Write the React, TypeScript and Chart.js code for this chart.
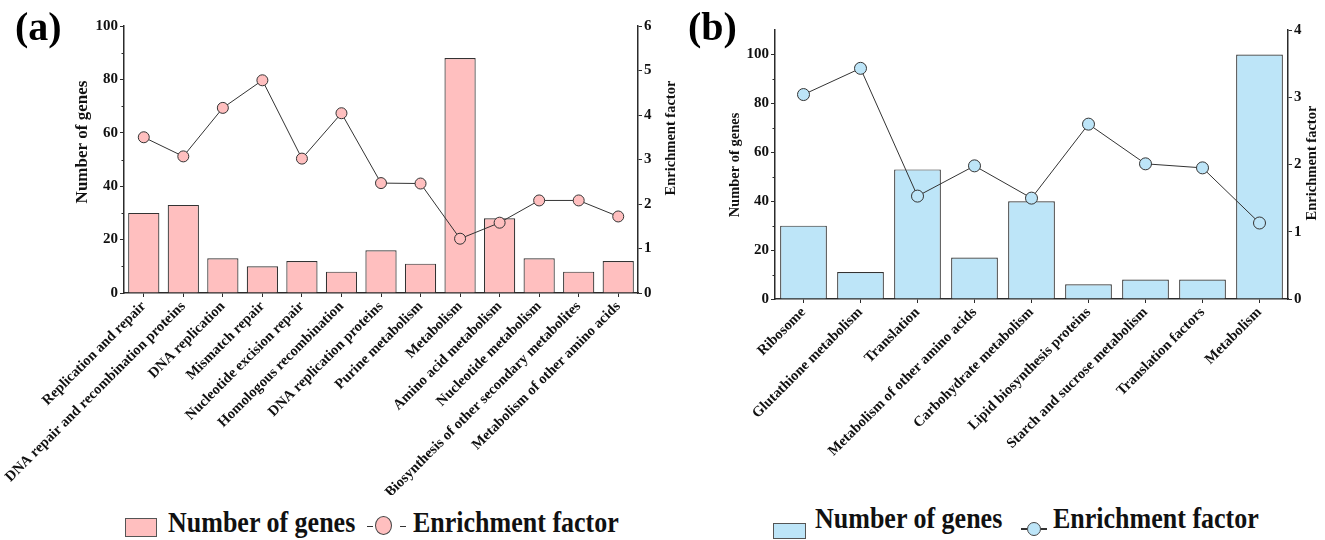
import React, { useEffect, useRef } from 'react';
import { Chart, registerables } from 'chart.js';

Chart.register(...registerables);

// ---------- Data: panel (a) ----------
const categoriesA = [
  'Replication and repair',
  'DNA repair and recombination proteins',
  'DNA replication',
  'Mismatch repair',
  'Nucleotide excision repair',
  'Homologous recombination',
  'DNA replication proteins',
  'Purine metabolism',
  'Metabolism',
  'Amino acid metabolism',
  'Nucleotide metabolism',
  'Biosynthesis of other secondary metabolites',
  'Metabolism of other amino acids',
];
const genesA = [30, 33, 13, 10, 12, 8, 16, 11, 88, 28, 13, 8, 12];
const enrichA = [3.5, 3.07, 4.16, 4.78, 3.02, 4.04, 2.47, 2.46, 1.22, 1.58, 2.08, 2.08, 1.72];
const genesTicksA = [0, 20, 40, 60, 80, 100];
const genesMinorA = [10, 30, 50, 70, 90];
const enrichTicksA = [0, 1, 2, 3, 4, 5, 6];

// ---------- Data: panel (b) ----------
const categoriesB = [
  'Ribosome',
  'Glutathione metabolism',
  'Translation',
  'Metabolism of other amino acids',
  'Carbohydrate metabolism',
  'Lipid biosynthesis proteins',
  'Starch and sucrose metabolism',
  'Translation factors',
  'Metabolism',
];
const genesB = [30, 11, 53, 17, 40, 6, 8, 8, 100];
const enrichB = [3.04, 3.43, 1.53, 1.98, 1.5, 2.6, 2.01, 1.95, 1.13];
const genesTicksB = [0, 20, 40, 60, 80, 100];
const genesMinorB = [10, 30, 50, 70, 90];
const enrichTicksB = [0, 1, 2, 3, 4];

const SERIF = '"Liberation Serif", "Times New Roman", serif';
const AXIS = '#2b2b2b';
const TXT = '#111';
const PINK = '#FFBFBF';
const BLUE = '#BDE5F8';

const decorPlugin = {
  id: 'decor',
  afterDraw(chart: any, _args: any, opts: any) {
    const ctx = chart.ctx;
    const yL = chart.scales.y;
    ctx.save();
    ctx.strokeStyle = AXIS;
    ctx.lineWidth = 1;
    for (const v of opts.minor || []) {
      const py = Math.round(yL.getPixelForValue(v)) + 0.5;
      ctx.beginPath();
      ctx.moveTo(yL.right - 2.5, py);
      ctx.lineTo(yL.right, py);
      ctx.stroke();
    }
    ctx.fillStyle = TXT;
    ctx.textAlign = 'center';
    ctx.textBaseline = 'middle';
    const drawV = (text: string, x: number, y: number, size: number) => {
      ctx.save();
      ctx.font = `bold ${size}px ${SERIF}`;
      ctx.translate(x, y);
      ctx.rotate(-Math.PI / 2);
      ctx.fillText(text, 0, 0);
      ctx.restore();
    };
    drawV(opts.leftTitle, opts.leftX, opts.leftY, opts.leftSize);
    drawV(opts.rightTitle, opts.rightX, opts.rightY, opts.rightSize);
    ctx.restore();
  },
};

type PanelCfg = {
  categories: string[];
  genes: number[];
  enrich: number[];
  genesTicks: number[];
  genesMinor: number[];
  enrichTicks: number[];
  genesMax: number;
  color: string;
  barPct: number;
  pointR: number;
  width: number;
  height: number;
  top: number;
  leftW: number;
  rightW: number;
  xH: number;
  titles: any;
};

function Panel({ cfg }: { cfg: PanelCfg }) {
  const ref = useRef<HTMLCanvasElement>(null);
  useEffect(() => {
    if (!ref.current) return;
    const tickFont = { family: SERIF, size: 15, weight: 'bold' as const };
    const chart = new Chart(ref.current, {
      type: 'bar',
      data: {
        labels: cfg.categories,
        datasets: [
          {
            type: 'line',
            label: 'Enrichment factor',
            data: cfg.enrich,
            yAxisID: 'y1',
            borderColor: '#333',
            borderWidth: 1,
            pointBackgroundColor: cfg.color,
            pointBorderColor: '#333',
            pointBorderWidth: 1,
            pointRadius: cfg.pointR,
            tension: 0,
            order: 0,
          } as any,
          {
            type: 'bar',
            label: 'Number of genes',
            data: cfg.genes,
            yAxisID: 'y',
            backgroundColor: cfg.color,
            borderColor: '#333',
            borderWidth: 1.2,
            barPercentage: cfg.barPct,
            categoryPercentage: 1,
            order: 1,
          } as any,
        ],
      },
      options: {
        responsive: false,
        animation: false,
        layout: { padding: { top: cfg.top, left: 0, right: 0, bottom: 0 } },
        plugins: {
          legend: { display: false },
          tooltip: { enabled: false },
          decor: { minor: cfg.genesMinor, ...cfg.titles },
        } as any,
        scales: {
          x: {
            type: 'category',
            offset: true,
            grid: { display: true, drawOnChartArea: false, drawTicks: true, tickLength: 4, color: AXIS, offset: false },
            border: { display: true, color: AXIS, width: 1.5 },
            ticks: {
              autoSkip: false,
              minRotation: 45,
              maxRotation: 45,
              padding: 1,
              color: TXT,
              font: { family: SERIF, size: 14.5, weight: 'bold' },
            },
            afterFit: (s: any) => { s.height = cfg.xH; },
          },
          y: {
            type: 'linear',
            position: 'left',
            min: 0,
            max: cfg.genesMax,
            afterBuildTicks: (s: any) => { s.ticks = cfg.genesTicks.map((v) => ({ value: v })); },
            grid: { display: true, drawOnChartArea: false, drawTicks: true, tickLength: 4, color: AXIS },
            border: { display: true, color: AXIS, width: 1.5 },
            ticks: { color: TXT, font: tickFont, padding: 2 },
            afterFit: (s: any) => { s.width = cfg.leftW; },
          },
          y1: {
            type: 'linear',
            position: 'right',
            min: 0,
            max: cfg.enrichTicks[cfg.enrichTicks.length - 1],
            afterBuildTicks: (s: any) => { s.ticks = cfg.enrichTicks.map((v) => ({ value: v })); },
            grid: { display: true, drawOnChartArea: false, drawTicks: true, tickLength: 4, color: AXIS },
            border: { display: true, color: AXIS, width: 1.5 },
            ticks: { color: TXT, font: tickFont, padding: 2 },
            afterFit: (s: any) => { s.width = cfg.rightW; },
          },
        },
      } as any,
      plugins: [decorPlugin as any],
    });
    return () => chart.destroy();
  }, [cfg]);
  return <canvas ref={ref} width={cfg.width} height={cfg.height} style={{ display: 'block' }} />;
}

const cfgA: PanelCfg = {
  categories: categoriesA,
  genes: genesA,
  enrich: enrichA,
  genesTicks: genesTicksA,
  genesMinor: genesMinorA,
  enrichTicks: enrichTicksA,
  genesMax: 100,
  color: PINK,
  barPct: 0.79,
  pointR: 5.5,
  width: 680,
  height: 495,
  top: 26,
  leftW: 124,
  rightW: 42,
  xH: 202,
  titles: {
    leftTitle: 'Number of genes', leftX: 83, leftY: 142, leftSize: 17,
    rightTitle: 'Enrichment factor', rightX: 671, rightY: 138, rightSize: 14.5,
  },
};

const cfgB: PanelCfg = {
  categories: categoriesB,
  genes: genesB,
  enrich: enrichB,
  genesTicks: genesTicksB,
  genesMinor: genesMinorB,
  enrichTicks: enrichTicksB,
  genesMax: 110,
  color: BLUE,
  barPct: 0.82,
  pointR: 6,
  width: 645,
  height: 495,
  top: 30,
  leftW: 95,
  rightW: 37,
  xH: 196,
  titles: {
    leftTitle: 'Number of genes', leftX: 55, leftY: 165, leftSize: 14.5,
    rightTitle: 'Enrichment factor', rightX: 632, rightY: 163, rightSize: 14.5,
  },
};

const legendText: React.CSSProperties = {
  position: 'absolute',
  fontSize: 26,
  fontWeight: 'bold',
  lineHeight: 1,
  whiteSpace: 'nowrap',
  color: TXT,
  transform: 'scaleY(1.12)',
  transformOrigin: 'left 80%',
};

export default function App() {
  useEffect(() => {
    document.body.style.margin = '0';
  }, []);
  return (
    <div style={{ position: 'relative', width: 1325, height: 540, background: '#fff', fontFamily: SERIF, overflow: 'hidden' }}>
      <div style={{ position: 'absolute', left: 0, top: 0 }}>
        <Panel cfg={cfgA} />
      </div>
      <div style={{ position: 'absolute', left: 680, top: 0 }}>
        <Panel cfg={cfgB} />
      </div>
      <div style={{ position: 'absolute', left: 15, top: 7, fontSize: 40, fontWeight: 'bold', lineHeight: 1 }}>(a)</div>
      <div style={{ position: 'absolute', left: 688, top: 7, fontSize: 40, fontWeight: 'bold', lineHeight: 1 }}>(b)</div>

      {/* Legend (a) */}
      <div style={{ position: 'absolute', left: 125, top: 518, width: 32, height: 19, background: PINK, border: '1px solid #555', boxSizing: 'border-box' }} />
      <div style={{ ...legendText, left: 168, top: 511 }}>Number of genes</div>
      <div style={{ position: 'absolute', left: 367, top: 525.5, width: 6, height: 1.5, background: '#333' }} />
      <div style={{ position: 'absolute', left: 400, top: 525.5, width: 6, height: 1.5, background: '#333' }} />
      <div style={{ position: 'absolute', left: 375, top: 516, width: 17, height: 19, borderRadius: '50%', background: PINK, border: '1px solid #444', boxSizing: 'border-box' }} />
      <div style={{ ...legendText, left: 413, top: 511 }}>Enrichment factor</div>

      {/* Legend (b) */}
      <div style={{ position: 'absolute', left: 773, top: 523, width: 33, height: 16, background: BLUE, border: '1px solid #555', boxSizing: 'border-box' }} />
      <div style={{ ...legendText, left: 815, top: 507 }}>Number of genes</div>
      <div style={{ position: 'absolute', left: 1021, top: 528, width: 6, height: 1.5, background: '#333' }} />
      <div style={{ position: 'absolute', left: 1041, top: 528, width: 6, height: 1.5, background: '#333' }} />
      <div style={{ position: 'absolute', left: 1027, top: 522, width: 14, height: 14, borderRadius: '50%', background: BLUE, border: '1px solid #444', boxSizing: 'border-box' }} />
      <div style={{ ...legendText, left: 1053, top: 507 }}>Enrichment factor</div>
    </div>
  );
}
